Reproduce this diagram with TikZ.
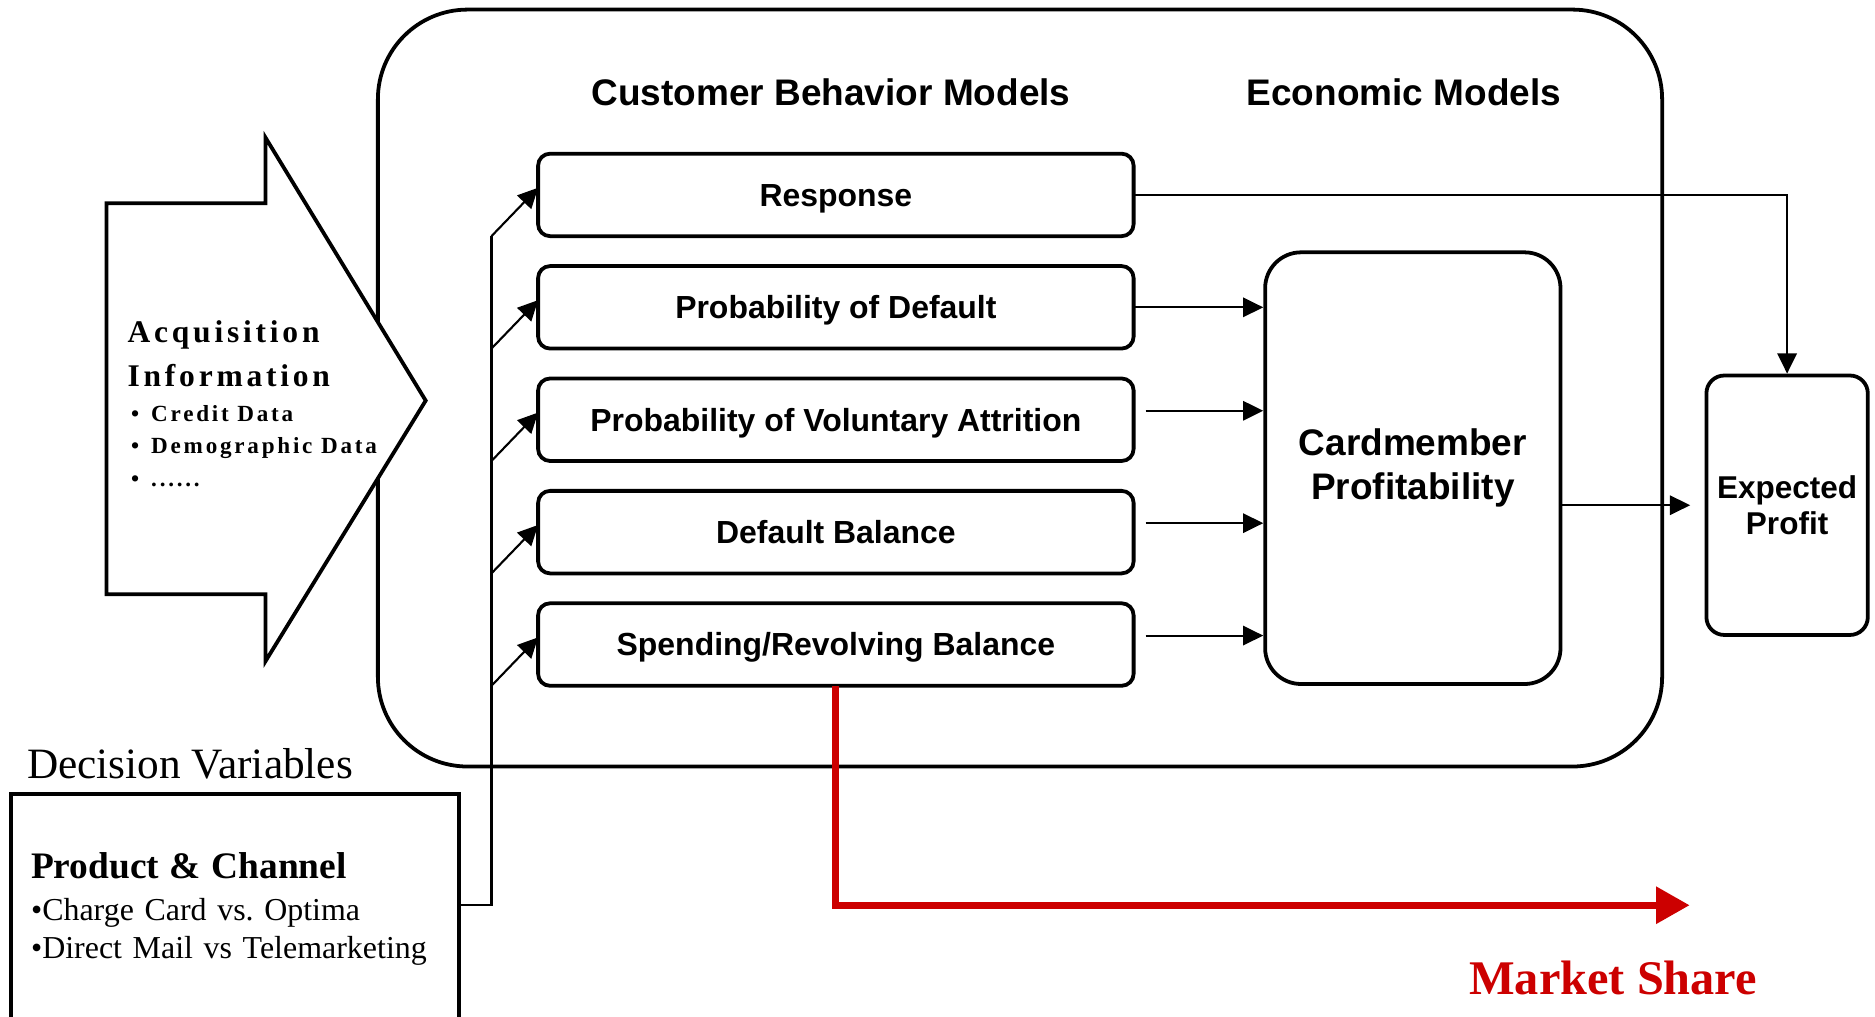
\documentclass[tikz,border=0pt]{standalone}
\usepackage{fontspec}
\setmainfont{Liberation Serif}
\setsansfont{Liberation Sans}
\newfontfamily\spacedserif[LetterSpace=12]{Liberation Serif}
\usetikzlibrary{positioning, arrows.meta}
\definecolor{sharered}{RGB}{204,0,0}

\begin{document}
\begin{tikzpicture}[
    x=0.1mm, y=-0.1mm,
    model/.style={rectangle, draw, line width=0.9pt, rounded corners=1mm, outer sep=0pt,
                  minimum width=49.8mm, minimum height=6.9mm, inner sep=0pt,
                  text height=2.4mm, text depth=0.5mm,
                  font=\sffamily\bfseries\fontsize{7.6}{9}\selectfont},
    econ/.style={rectangle, draw, line width=0.9pt, align=center, inner sep=0pt},
    title/.style={font=\sffamily\bfseries\fontsize{8.8}{10}\selectfont},
    arr/.style={-{Triangle[length=4.8pt, width=4.6pt]}, line width=0.5pt},
    link/.style={line width=0.5pt},
    market/.style={-{Triangle[length=8pt, width=8.5pt]}, line width=1.7pt, sharered},
]

\useasboundingbox (0,0) rectangle (1568,850);

% Model frame and headings
\node[draw, line width=0.9pt, rounded corners=7.5mm, minimum width=107.4mm,
      minimum height=63.3mm] (frame) at (853,324.5) {};
\node[title] (cbm) at (695,77) {Customer Behavior Models};
\node[title] (em) at (1174,77) {Economic Models};

% Customer behavior models
\node[model] (resp) at (699,163) {Response};
\node[model, below=2.5mm of resp] (pd) {Probability of Default};
\node[model, below=2.5mm of pd] (att) {Probability of Voluntary Attrition};
\node[model, below=2.5mm of att] (dbal) {Default Balance};
\node[model, below=2.5mm of dbal] (spend) {Spending/Revolving Balance};

% Economic models
\node[econ, rounded corners=3mm, minimum width=24.7mm, minimum height=36.1mm,
      font=\sffamily\bfseries\fontsize{8.8}{10.5}\selectfont] (cm) at (1181.5,391.5)
      {Cardmember\\Profitability};
\node[econ, rounded corners=1.5mm, minimum width=13.5mm, minimum height=21.7mm,
      font=\sffamily\bfseries\fontsize{7.5}{8.8}\selectfont] (ep) at (1494.5,422.5)
      {Expected\\Profit};

% Acquisition information (big arrow)
\draw[line width=0.9pt, fill=white] (89,170) -- (222,170) -- (222,115) -- (356,335)
      -- (222,553) -- (222,497) -- (89,497) -- cycle;
\node[anchor=west, align=left, inner sep=0pt,
      font=\spacedserif\bfseries\fontsize{7.5}{10.5}\selectfont] (acq) at (106,296)
      {Acquisition\\Information};
\node[anchor=west, align=left, inner sep=0pt,
      font=\spacedserif\bfseries\fontsize{5.5}{7.7}\selectfont] (acqlist) at (109,373)
      {\textbullet\hspace{1mm}Credit Data\\
       \textbullet\hspace{1mm}Demographic Data\\
       \textbullet\hspace{1mm}......};

% Decision variables
\node[anchor=west, inner sep=0pt, font=\fontsize{10.3}{12}\selectfont] (dvlabel) at (22,639)
      {Decision Variables};
\node[draw, line width=0.9pt, anchor=north west, minimum width=37.5mm, minimum height=19.2mm,
      text width=34.1mm, inner xsep=1.7mm, align=left, outer sep=0pt,
      font=\fontsize{7.6}{9.1}\selectfont] (dv) at (9,664)
      {{\bfseries\fontsize{8.9}{10}\selectfont Product \& Channel}\\[1pt]
       \textbullet Charge Card vs.\ Optima\\
       \textbullet Direct Mail vs Telemarketing};

% Decision variables feed every model
\coordinate (join) at (411,757);
\draw[link] (join -| dv.east) -- (join) -- (join |- resp.south);
\foreach \m in {resp, pd, att, dbal, spend}
  \draw[arr] (join |- \m.south) -- ([yshift=0.6mm]\m.west);

% Models into profitability
\draw[arr] (pd.east) -- (pd.east -| cm.west);
\foreach \m in {att, dbal, spend}
  \draw[arr] ([xshift=1mm, yshift=0.75mm]\m.east) -- ([yshift=0.75mm]\m.east -| cm.west);

% Profit
\draw[arr] (cm.east |- ep.west) -- ([xshift=-1.2mm]ep.west);
\draw[arr] (resp.east) -| (ep.north);

% Market share
\coordinate (share) at (1413,757);
\draw[market] (spend.south) |- (share);
\node[font=\bfseries\fontsize{11.5}{13}\selectfont, text=sharered] (msh) at (1349,818)
      {Market Share};

\end{tikzpicture}
\end{document}
